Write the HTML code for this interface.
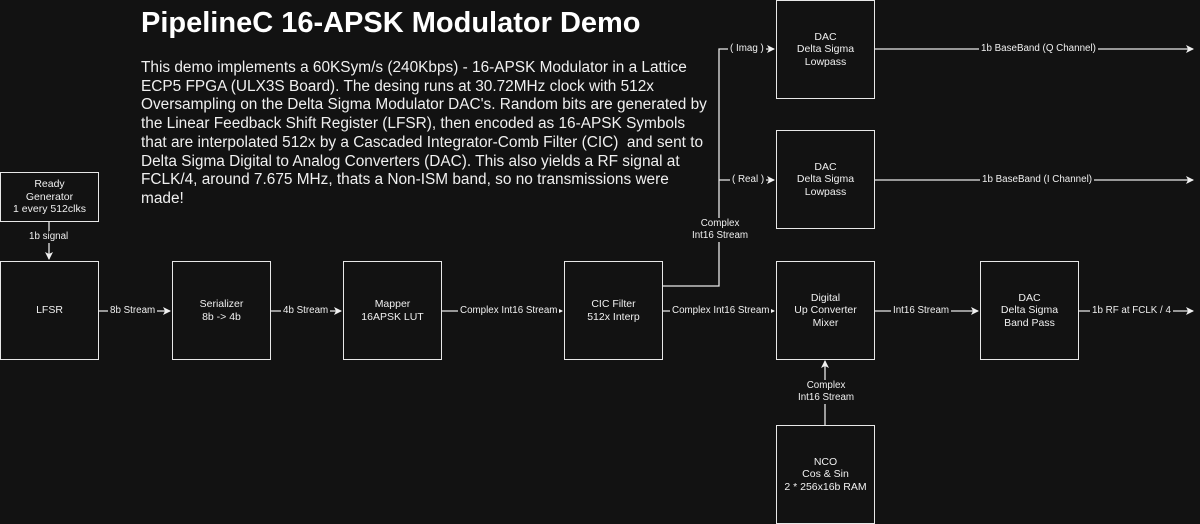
<!DOCTYPE html>
<html><head><style>
body{margin:0;width:1200px;height:524px;background:#121212;overflow:hidden;font-family:"Liberation Sans",sans-serif;color:#f0f0f0;position:relative}
.b{position:absolute;border:1.5px solid #e8e8e8;box-sizing:border-box;display:flex;align-items:center;justify-content:center;text-align:center;font-size:10.5px;line-height:12.5px;color:#f0f0f0}
.l{position:absolute;font-size:9.8px;background:#121212;color:#f0f0f0;white-space:nowrap;text-align:center;line-height:12px;padding:0 2px}
svg{position:absolute;left:0;top:0}
</style></head><body>
<div style="position:absolute;left:141px;top:7px;font-size:29px;font-weight:bold;color:#fff">PipelineC 16-APSK Modulator Demo</div>
<div style="position:absolute;left:141px;top:59px;width:570px;font-size:15.4px;line-height:18.7px;color:#f0f0f0">This demo implements a 60KSym/s (240Kbps) - 16-APSK Modulator in a Lattice ECP5 FPGA (ULX3S Board). The desing runs at 30.72MHz clock with 512x Oversampling on the Delta Sigma Modulator DAC's. Random bits are generated by the Linear Feedback Shift Register (LFSR), then encoded as 16-APSK Symbols that are interpolated 512x by a Cascaded Integrator-Comb Filter (CIC)&nbsp; and sent to Delta Sigma Digital to Analog Converters (DAC). This also yields a RF signal at FCLK/4, around 7.675 MHz, thats a Non-ISM band, so no transmissions were made!</div>
<svg width="1200" height="524">
<defs><marker id="a" markerWidth="8" markerHeight="8" refX="7" refY="4" orient="auto" markerUnits="userSpaceOnUse"><path d="M0,0L8,4L0,8L2,4z" fill="#f0f0f0"/></marker></defs>
<g stroke="#e8e8e8" stroke-width="1.3" fill="none">
<line x1="49" y1="222" x2="49" y2="259" marker-end="url(#a)"/>
<line x1="98" y1="311" x2="170" y2="311" marker-end="url(#a)"/>
<line x1="270" y1="311" x2="341" y2="311" marker-end="url(#a)"/>
<line x1="441" y1="311" x2="562" y2="311" marker-end="url(#a)"/>
<line x1="662" y1="311" x2="774" y2="311" marker-end="url(#a)"/>
<line x1="874" y1="311" x2="978" y2="311" marker-end="url(#a)"/>
<line x1="1078" y1="311" x2="1193" y2="311" marker-end="url(#a)"/>
<line x1="825" y1="425" x2="825" y2="361" marker-end="url(#a)"/>
<polyline points="662,286 719,286 719,49 774,49" marker-end="url(#a)"/>
<polyline points="719,180 774,180" marker-end="url(#a)"/>
<line x1="874" y1="49" x2="1193" y2="49" marker-end="url(#a)"/>
<line x1="874" y1="180" x2="1193" y2="180" marker-end="url(#a)"/>
</g></svg>
<div class="b" style="left:0;top:172px;width:99px;height:50px">Ready<br>Generator<br>1 every 512clks</div>
<div class="b" style="left:0;top:261px;width:99px;height:99px">LFSR</div>
<div class="b" style="left:172px;top:261px;width:99px;height:99px">Serializer<br>8b -&gt; 4b</div>
<div class="b" style="left:343px;top:261px;width:99px;height:99px">Mapper<br>16APSK LUT</div>
<div class="b" style="left:564px;top:261px;width:99px;height:99px">CIC Filter<br>512x Interp</div>
<div class="b" style="left:776px;top:261px;width:99px;height:99px">Digital<br>Up Converter<br>Mixer</div>
<div class="b" style="left:980px;top:261px;width:99px;height:99px">DAC<br>Delta Sigma<br>Band Pass</div>
<div class="b" style="left:776px;top:425px;width:99px;height:99px">NCO<br>Cos &amp; Sin<br>2 * 256x16b RAM</div>
<div class="b" style="left:776px;top:0;width:99px;height:99px">DAC<br>Delta Sigma<br>Lowpass</div>
<div class="b" style="left:776px;top:130px;width:99px;height:99px">DAC<br>Delta Sigma<br>Lowpass</div>
<div class="l" style="left:27px;top:231px">1b signal</div>
<div class="l" style="left:108px;top:305px">8b Stream</div>
<div class="l" style="left:281px;top:305px">4b Stream</div>
<div class="l" style="left:458px;top:305px">Complex Int16 Stream</div>
<div class="l" style="left:670px;top:305px">Complex Int16 Stream</div>
<div class="l" style="left:891px;top:305px">Int16 Stream</div>
<div class="l" style="left:1090px;top:305px">1b RF at FCLK / 4</div>
<div class="l" style="left:796px;top:380px">Complex<br>Int16 Stream</div>
<div class="l" style="left:690px;top:218px">Complex<br>Int16 Stream</div>
<div class="l" style="left:728px;top:43px">( Imag )</div>
<div class="l" style="left:730px;top:174px">( Real )</div>
<div class="l" style="left:979px;top:43px">1b BaseBand (Q Channel)</div>
<div class="l" style="left:980px;top:174px">1b BaseBand (I Channel)</div>
</body></html>
